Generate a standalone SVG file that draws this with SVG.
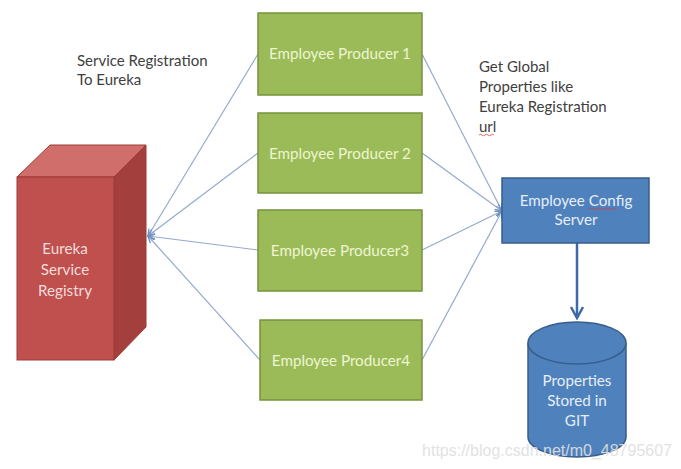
<svg xmlns="http://www.w3.org/2000/svg" width="681" height="469" viewBox="0 0 681 469">
<style>
.lbl{font-family:Lato,"Open Sans","Liberation Sans",sans-serif;font-size:15px;fill:#404040}
.gtxt{font-family:Lato,"Open Sans","Liberation Sans",sans-serif;font-size:15.2px;fill:#eef5d0;text-anchor:middle}
.wtxt{font-family:Lato,"Open Sans","Liberation Sans",sans-serif;font-size:15.2px;fill:#e6eef8;text-anchor:middle}
.green{fill:#9bbb59;stroke:#76923c;stroke-width:1.5}
.conn{stroke:#94aacb;stroke-width:1.2;fill:none}
</style>
<defs>
<marker id="ah" markerWidth="8" markerHeight="8" refX="7" refY="4" orient="auto" markerUnits="userSpaceOnUse">
<path d="M0,1 L7,4 L0,7" fill="none" stroke="#6d8fc0" stroke-width="1.3"/>
</marker>
<marker id="ah2" markerWidth="14" markerHeight="14" refX="12" refY="7" orient="auto" markerUnits="userSpaceOnUse">
<path d="M1,1 L12,7 L1,13" fill="none" stroke="#3d6aa6" stroke-width="2.5"/>
</marker>
</defs>
<rect width="681" height="469" fill="#ffffff"/>
<g id="connectors">
<line class="conn" x1="258" y1="54" x2="148" y2="236" marker-end="url(#ah)"/>
<line class="conn" x1="258" y1="153" x2="148" y2="236" marker-end="url(#ah)"/>
<line class="conn" x1="258" y1="250" x2="148" y2="236" marker-end="url(#ah)"/>
<line class="conn" x1="260" y1="360" x2="148" y2="236" marker-end="url(#ah)"/>
<line class="conn" x1="422" y1="54" x2="502" y2="211" marker-end="url(#ah)"/>
<line class="conn" x1="422" y1="153" x2="502" y2="211" marker-end="url(#ah)"/>
<line class="conn" x1="422" y1="250" x2="502" y2="211" marker-end="url(#ah)"/>
<line class="conn" x1="422" y1="360" x2="502" y2="211" marker-end="url(#ah)"/>
<line x1="577" y1="243" x2="577" y2="318" stroke="#3d6aa6" stroke-width="2.5" marker-end="url(#ah2)"/>
</g>
<g id="eureka">
<polygon points="17,177 50,145 146,145 114,177" fill="#d06e6b" stroke="#9e3a37" stroke-width="1"/>
<polygon points="114,177 146,145 146,327 114,360" fill="#a3403d" stroke="#9e3a37" stroke-width="1"/>
<rect x="17" y="177" width="97" height="183" fill="#c0504d" stroke="#9e3a37" stroke-width="1"/>
<text x="65" y="254" class="gtxt" style="fill:#f3dcdb">Eureka</text>
<text x="65" y="275" class="gtxt" style="fill:#f3dcdb">Service</text>
<text x="65" y="296" class="gtxt" style="fill:#f3dcdb">Registry</text>
</g>
<g id="p1"><rect class="green" x="258" y="13" width="164" height="82"/><text x="340" y="59" class="gtxt">Employee Producer 1</text></g>
<g id="p2"><rect class="green" x="258" y="113" width="164" height="80"/><text x="340" y="159" class="gtxt">Employee Producer 2</text></g>
<g id="p3"><rect class="green" x="258" y="210" width="164" height="81"/><text x="340" y="256" class="gtxt">Employee Producer3</text></g>
<g id="p4"><rect class="green" x="260" y="320" width="162" height="80"/><text x="341" y="366" class="gtxt">Employee Producer4</text></g>
<g id="config">
<rect x="502" y="178" width="147" height="65" fill="#4f81bd" stroke="#385d8a" stroke-width="1.5"/>
<text x="576" y="206" class="wtxt">Employee Config</text>
<text x="576" y="225" class="wtxt">Server</text>
<path d="M589,209 q2,-2 4,0 t4,0 t4,0 t4,0 t4,0 t4,0 t4,0" fill="none" stroke="#d04040" stroke-width="0.8"/>
</g>
<g id="git">
<path d="M528,343 L528,437 A49,20 0 0 0 626,437 L626,343" fill="#4f81bd" stroke="#385d8a" stroke-width="1.5"/>
<ellipse cx="577" cy="343" rx="49" ry="21" fill="#4f81bd" stroke="#385d8a" stroke-width="1.5"/>
<text x="577" y="386" class="wtxt">Properties</text>
<text x="577" y="406" class="wtxt">Stored in</text>
<text x="577" y="426" class="wtxt">GIT</text>
</g>
<g id="labels">
<text x="77" y="66" class="lbl">Service Registration</text>
<text x="77" y="85" class="lbl">To Eureka</text>
<text x="479" y="72" class="lbl">Get Global</text>
<text x="479" y="92" class="lbl">Properties like</text>
<text x="479" y="112" class="lbl">Eureka Registration</text>
<text x="479" y="132" class="lbl">url</text>
<path d="M479,135 q1.5,-1.5 3,0 t3,0 t3,0 t3,0 t3,0" fill="none" stroke="#d04040" stroke-width="0.8"/>
</g>
<text x="672" y="456" style="font-family:'Liberation Sans',Arial,sans-serif;font-size:16px;fill:#e0e0e0;opacity:0.9;text-anchor:end">https://blog.csdn.net/m0_48795607</text>
</svg>
